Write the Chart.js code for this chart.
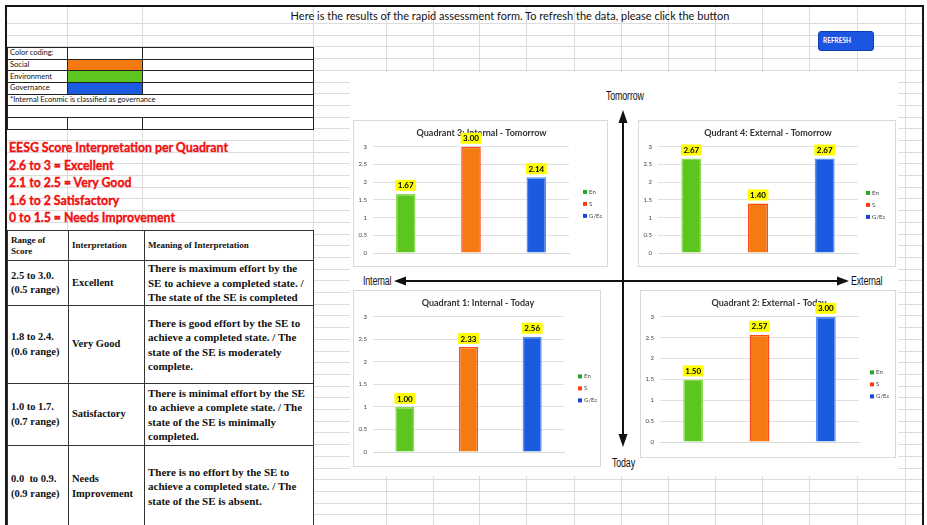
<!DOCTYPE html>
<html>
<head>
<meta charset="utf-8">
<script src="https://cdn.jsdelivr.net/npm/chart.js@4"></script>
<style>
  body { margin: 0; width: 927px; height: 525px; overflow: hidden; background: #fff; font-family: Lato, "Open Sans", sans-serif; position: relative; }
  .abs { position: absolute; }
  .hline { position: absolute; height: 1px; background: #dcdcdc; }
  .vline { position: absolute; width: 1px; background: #dcdcdc; }
  #frame { left: 5px; top: 5px; width: 915px; height: 530px; border: 2px solid #161616; }
  #header { left: 7px; top: 9px; width: 1006px; text-align: center; font-size: 11px; color: #111; }
  #refresh { left: 818px; top: 31px; width: 50px; height: 18px; background: #1c56e0; border: 1px solid #0c3fb5; border-radius: 3px;
             color: #fff; font: bold 6.5px Lato, sans-serif; line-height: 18px; padding-left: 4px; box-sizing: content-box; }
  #colorTable { left: 7px; top: 47px; border-collapse: collapse; table-layout: fixed; font-size: 7.5px; color: #111; background: #fff; }
  #colorTable td { border: 1px solid #222; padding: 0 0 0 2px; height: 10.7px; line-height: 10px; white-space: nowrap; }
  #scoreText { left: 9px; top: 139px; color: #f01010; font: bold 12.3px Lato, sans-serif; line-height: 17.5px; -webkit-text-stroke: 0.35px #f01010; }
  #rangeTable { left: 7px; top: 230px; border-collapse: collapse; table-layout: fixed; background: #fff;
                font-family: "Liberation Serif", "DejaVu Serif", serif; color: #111; }
  #rangeTable td { border: 1px solid #333; padding: 0 0 0 3px; vertical-align: middle; white-space: nowrap; font-weight: bold; }
  #rangeTable tr.head td { font-size: 9px; line-height: 11px; vertical-align: middle; }
  #rangeTable .c0 { font-size: 10.5px; line-height: 14.5px; }
  #rangeTable .c1 { font-size: 10.5px; line-height: 14.5px; }
  #rangeTable .c2 { font-size: 11px; line-height: 14.5px; }
  #panel { left: 350px; top: 72px; width: 548px; height: 404px; background: #fff; }
  .box { position: absolute; background: #fff; border: 1px solid #d9d9d9; box-sizing: border-box; }
  .box canvas { position: absolute; left: 0; top: 0; }
  .axisLabel { position: absolute; font: 12px "Liberation Sans", sans-serif; color: #111; white-space: nowrap;
               transform: scaleX(0.74); transform-origin: 0 0; letter-spacing: -0.2px; }
</style>
</head>
<body>
<div id="grid"></div>
<div id="panel" class="abs"></div>
<div id="frame" class="abs"></div>

<div id="header" class="abs">Here is the results of the rapid assessment form. To refresh the data, please click the button</div>
<div id="refresh" class="abs">REFRESH</div>

<table id="colorTable" class="abs">
  <colgroup><col style="width:60px"><col style="width:75px"><col style="width:171px"></colgroup>
  <tr><td>Color coding:</td><td></td><td></td></tr>
  <tr><td>Social</td><td id="swatchS"></td><td></td></tr>
  <tr><td>Environment</td><td id="swatchEn"></td><td></td></tr>
  <tr><td>Governance</td><td id="swatchG"></td><td></td></tr>
  <tr><td colspan="3">*Internal Econmic is classified as governance</td></tr>
  <tr><td colspan="3"></td></tr>
  <tr><td></td><td></td><td></td></tr>
</table>

<div id="scoreText" class="abs">
  EESG Score Interpretation per Quadrant<br>
  2.6 to 3 = Excellent<br>
  2.1 to 2.5 = Very Good<br>
  1.6 to 2 Satisfactory<br>
  0 to 1.5 = Needs Improvement
</div>

<table id="rangeTable" class="abs">
  <colgroup><col style="width:61px"><col style="width:76px"><col style="width:169px"></colgroup>
  <tr class="head" style="height:30px"><td>Range of<br>Score</td><td>Interpretation</td><td>Meaning of Interpretation</td></tr>
  <tr style="height:45px"><td class="c0">2.5 to 3.0.<br>(0.5 range)</td><td class="c1">Excellent</td>
    <td class="c2">There is maximum effort by the<br>SE to achieve a completed state. /<br>The state of the SE is completed</td></tr>
  <tr style="height:78px"><td class="c0">1.8 to 2.4.<br>(0.6 range)</td><td class="c1">Very Good</td>
    <td class="c2">There is good effort by the SE to<br>achieve a completed state. / The<br>state of the SE is moderately<br>complete.</td></tr>
  <tr style="height:62px"><td class="c0">1.0 to 1.7.<br>(0.7 range)</td><td class="c1">Satisfactory</td>
    <td class="c2">There is minimal effort by the SE<br>to achieve a complete state. / The<br>state of the SE is minimally<br>completed.</td></tr>
  <tr style="height:82px"><td class="c0">0.0&nbsp; to 0.9.<br>(0.9 range)</td><td class="c1">Needs<br>Improvement</td>
    <td class="c2">There is no effort by the SE to<br>achieve a completed state. / The<br>state of the SE is absent.</td></tr>
</table>

<!-- quadrant axes -->
<svg class="abs" style="left:0;top:0" width="927" height="525">
  <g stroke="#111" stroke-width="2" fill="#111">
    <line x1="623" y1="122" x2="623" y2="436" />
    <polygon points="623,110 618.5,123 627.5,123" stroke="none" />
    <polygon points="623,447 618.5,434 627.5,434" stroke="none" />
    <line x1="405" y1="281" x2="838" y2="281" />
    <polygon points="394,281 406,276.5 406,285.5" stroke="none" />
    <polygon points="849,281 837,276.5 837,285.5" stroke="none" />
  </g>
</svg>
<div class="axisLabel" style="left:606px;top:89px">Tomorrow</div>
<div class="axisLabel" style="left:612px;top:456px">Today</div>
<div class="axisLabel" style="left:363px;top:274px">Internal</div>
<div class="axisLabel" style="left:851px;top:274px">External</div>

<div class="box" style="left:353px;top:120px;width:255px;height:147px"><canvas id="q3" width="255" height="147"></canvas></div>
<div class="box" style="left:638px;top:120px;width:258px;height:147px"><canvas id="q4" width="258" height="147"></canvas></div>
<div class="box" style="left:353px;top:290px;width:248px;height:177px"><canvas id="q1" width="248" height="177"></canvas></div>
<div class="box" style="left:640px;top:290px;width:256px;height:168px"><canvas id="q2" width="256" height="168"></canvas></div>

<script>
// Categories and scores per quadrant
const categories = ["En", "S", "G/Ec"];
const yTicks = [0, 0.5, 1, 1.5, 2, 2.5, 3];
const q3Values = [1.67, 3.00, 2.14];   // Internal - Tomorrow
const q4Values = [2.67, 1.40, 2.67];   // External - Tomorrow
const q1Values = [1.00, 2.33, 2.56];   // Internal - Today
const q2Values = [1.50, 2.57, 3.00];   // External - Today

const barColors = ["#5cc61e", "#f57a12", "#1b5be0"];
const barEdges = ["#8cdc58", "#ff4a1a", "#5a90f2"];
const legendColors = ["#22a822", "#ff3a10", "#1a44d8"];

// Spreadsheet grid lines
const gridCols = [67, 142, 313, 386, 433, 479, 526, 574, 621, 668, 715, 762, 809, 857, 905];
const grid = document.getElementById("grid");
for (let y = 23; y < 525; y += 11.7) {
  const d = document.createElement("div");
  d.className = "hline";
  d.style.cssText = `left:7px;top:${Math.round(y)}px;width:915px`;
  grid.appendChild(d);
}
gridCols.forEach((x) => {
  const d = document.createElement("div");
  d.className = "vline";
  d.style.cssText = `left:${x}px;top:7px;height:518px`;
  grid.appendChild(d);
});

// Colour key swatches
document.getElementById("swatchS").style.background = barColors[1];
document.getElementById("swatchEn").style.background = barColors[0];
document.getElementById("swatchG").style.background = barColors[2];

// Yellow value boxes above each bar
const valueBoxes = {
  id: "valueBoxes",
  afterDatasetsDraw(chart) {
    const ctx = chart.ctx;
    const meta = chart.getDatasetMeta(0);
    const values = chart.data.datasets[0].data;
    ctx.save();
    ctx.font = "bold 8px Lato";
    ctx.textAlign = "center";
    ctx.textBaseline = "middle";
    meta.data.forEach((bar, i) => {
      const text = values[i].toFixed(2);
      const w = ctx.measureText(text).width + 5;
      const h = 11;
      const top = bar.y - 3 - h;
      ctx.fillStyle = "#ffff00";
      ctx.fillRect(bar.x - w / 2, top, w, h);
      ctx.fillStyle = "#000";
      ctx.fillText(text, bar.x, top + h / 2 + 0.5);
    });
    ctx.restore();
  }
};

// Per-category legend to the right of the plot
const sideLegend = {
  id: "sideLegend",
  afterDraw(chart, args, opts) {
    const ctx = chart.ctx;
    const area = chart.chartArea;
    const x = area.right + opts.gap;
    const mid = (area.top + area.bottom) / 2 + opts.shift;
    ctx.save();
    ctx.font = "6px Lato";
    ctx.textBaseline = "middle";
    categories.forEach((c, i) => {
      const y = mid + (i - 1) * 12;
      ctx.fillStyle = legendColors[i];
      ctx.fillRect(x, y - 2, 4, 4);
      ctx.fillStyle = "#444";
      ctx.fillText(c, x + 6, y);
    });
    ctx.restore();
  }
};

function makeChart(id, title, values, pad) {
  const ctx = document.getElementById(id).getContext("2d");
  return new Chart(ctx, {
    type: "bar",
    data: {
      labels: categories,
      datasets: [{
        data: values,
        backgroundColor: barColors,
        borderColor: barEdges,
        borderWidth: 1.5,
        barPercentage: 0.3,
        categoryPercentage: 1
      }]
    },
    options: {
      responsive: false,
      animation: false,
      devicePixelRatio: 1,
      layout: { padding: { left: 0, right: 0, top: 0, bottom: pad.bottom } },
      plugins: {
        title: {
          display: true,
          text: title,
          color: "#333",
          font: { family: "Lato", size: 9 },
          padding: { top: 7, bottom: pad.titleGap }
        },
        legend: { display: false },
        sideLegend: { gap: pad.legendGap, shift: pad.legendShift },
        tooltip: { enabled: false }
      },
      scales: {
        x: {
          grid: { display: false },
          border: { color: "#d9d9d9" },
          ticks: { color: "#444", font: { family: "Lato", size: 6 }, padding: 4 },
          afterFit: (s) => { s.height = 12; }
        },
        y: {
          min: 0,
          max: 3,
          grid: { color: "#e0e0e0", drawTicks: false },
          border: { display: false },
          ticks: { color: "#444", font: { family: "Lato", size: 6 }, padding: 6, callback: (v) => String(v) },
          afterBuildTicks: (s) => { s.ticks = yTicks.map((v) => ({ value: v })); },
          afterFit: (s) => { s.width = 19; }
        },
        // empty right-hand strip that leaves room for the legend
        legendSpace: {
          position: "right",
          grid: { display: false },
          border: { display: false },
          ticks: { display: false },
          afterFit: (s) => { s.width = pad.right; }
        }
      }
    },
    plugins: [valueBoxes, sideLegend]
  });
}

makeChart("q3", "Quadrant 3: Internal - Tomorrow", q3Values, { right: 40, bottom: 3, titleGap: 8, legendGap: 14, legendShift: 4 });
makeChart("q4", "Qudrant 4: External - Tomorrow", q4Values, { right: 39, bottom: 3, titleGap: 8, legendGap: 8, legendShift: 5 });
makeChart("q1", "Quadrant 1: Internal - Today", q1Values, { right: 38, bottom: 4, titleGap: 8, legendGap: 14, legendShift: 4 });
makeChart("q2", "Quadrant 2: External - Today", q2Values, { right: 38, bottom: 5, titleGap: 8, legendGap: 11, legendShift: 5 });
</script>
</body>
</html>
